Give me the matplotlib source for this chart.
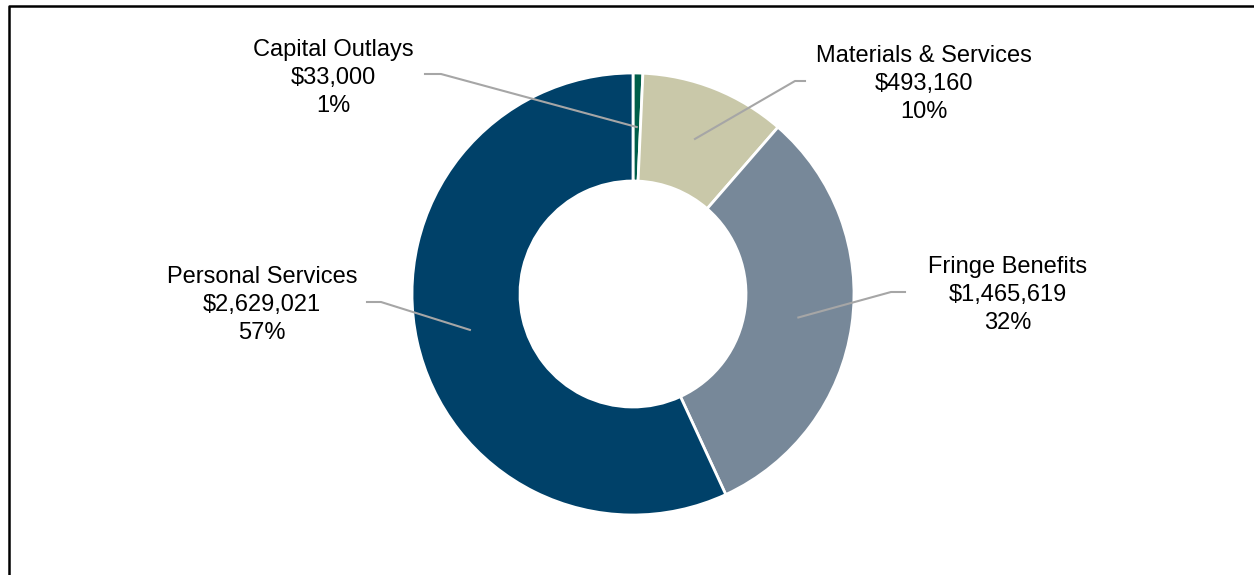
import numpy as np
import matplotlib
matplotlib.use("Agg")
import matplotlib.pyplot as plt

# Datos del gráfico
categorias = ['Capital Outlays', 'Materials & Services', 'Fringe Benefits', 'Personal Services']
montos = [33000, 493160, 1465619, 2629021]
etiquetas_monto = ['$33,000', '$493,160', '$1,465,619', '$2,629,021']
etiquetas_pct = ['1%', '10%', '32%', '57%']
colores = ['#005E4A', '#C9C8A9', '#778899', '#004169']

W, H = 1254, 575
plt.rcParams['font.family'] = ['Liberation Sans', 'DejaVu Sans']

fig = plt.figure(figsize=(W / 100, H / 100), dpi=100)
ax = fig.add_axes([0, 0, 1, 1])
ax.set_xlim(0, W)
ax.set_ylim(0, H)
ax.set_aspect('equal')
ax.axis('off')

# Coordenadas en píxeles (y invertida)
def py(y):
    return H - y

cx, cy, r = 633, py(294), 221
ax.pie(montos, colors=colores, startangle=90, counterclock=False,
       radius=r, center=(cx, cy),
       wedgeprops=dict(width=108, edgecolor='white', linewidth=2))
ax.set_xlim(0, W)
ax.set_ylim(0, H)

# Ángulos medios de cada porción
total = sum(montos)
fracs = np.cumsum([0] + montos) / total
medios = [90 - 360 * (fracs[i] + fracs[i + 1]) / 2 for i in range(len(montos))]

# Posición de texto y codo de la línea guía
textos = [(333, 78), (924, 84), (1008, 295), (262, 305)]
codos = [((425, 74), (441, 74)), ((805, 81), (795, 81)),
         ((905, 292), (891, 292)), ((367, 302), (381, 302))]

for i, cat in enumerate(categorias):
    tx, ty = textos[i]
    ax.text(tx, py(ty), f"{cat}\n{etiquetas_monto[i]}\n{etiquetas_pct[i]}",
            ha='center', va='center', fontsize=17, linespacing=1.33, color='black')
    a = np.deg2rad(medios[i])
    ex, ey = cx + 167 * np.cos(a), cy + 167 * np.sin(a)
    (x0, y0), (x1, y1) = codos[i]
    ax.plot([x0, x1, ex], [py(y0), py(y1), ey], color='#A6A6A6', lw=1.5)

# Marco
ax.plot([9, 9, W + 5], [-5, py(6), py(6)], color='black', lw=1.8, clip_on=False)

fig.savefig('out.png', dpi=100)
